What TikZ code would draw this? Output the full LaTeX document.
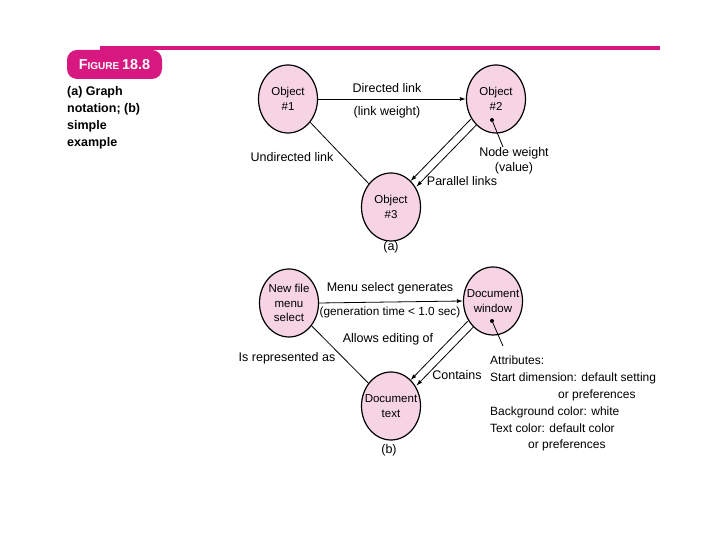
\documentclass[tikz,border=0pt]{standalone}
\usepackage{fontspec}
\setsansfont{Liberation Sans}
\usetikzlibrary{arrows.meta,shapes.geometric,calc}

\definecolor{figmagenta}{RGB}{214,24,128}
\definecolor{nodepink}{RGB}{246,212,227}

\begin{document}
\begin{tikzpicture}[
    x=1pt, y=1pt,
    font=\sffamily\fontsize{12.5}{15}\selectfont,
    >={Latex[length=6pt,width=4pt]},
    arrow/.style={->, line width=0.8pt},
    link/.style={line width=0.8pt},
    objnode/.style={
        ellipse,
        draw,
        line width=1.2pt,
        fill=nodepink,
        align=center,
        minimum width=59pt,
        minimum height=68pt,
        inner xsep=-12pt,
        inner ysep=-8pt,
        font=\sffamily\fontsize{11.5}{14.5}\selectfont
    },
    lbl/.style={align=center, inner sep=1pt},
    weightdot/.style={circle, fill=black, inner sep=0pt, minimum size=4pt}
]

\useasboundingbox (0,0) rectangle (720,540);

% Title bar and badge
\draw[figmagenta, line width=3.5pt] (100,492) -- (660,492);
\node[fill=figmagenta, rounded corners=10pt, minimum width=95pt, minimum height=29pt,
    text=white, font=\sffamily\bfseries] (badge) at (114.5,475.5)
    {{\Large F}{\normalsize IGURE}\ \Large 18.8};

% Caption
\node[anchor=north west, align=left, inner sep=0pt, font=\sffamily\bfseries\fontsize{12.5}{17}\selectfont]
    (caption) at (67,454) {(a) Graph\\notation; (b)\\simple\\example};

% (a) graph notation
\node[objnode] (obj1) at (288,441) {Object\\\#1};
\node[objnode] (obj2) at (496,441) {Object\\\#2};
\node[objnode] (obj3) at (391,333) {Object\\\#3};

\draw[arrow] (obj1.east) -- (obj2.west);
\draw[link] (obj1) -- (obj3);
\draw[arrow, transform canvas={shift={(-2.9,2.8)}}] (obj2) -- (obj3);
\draw[arrow, transform canvas={shift={(2.9,-2.8)}}] (obj2) -- (obj3);

\node[weightdot] (wtdot) at (492,420) {};
\coordinate (wtend) at (503,393);
\draw[link] (wtdot) -- (wtend);

\node[lbl] (directed) at (387,452) {Directed link};
\node[lbl] (weight) at (387,428) {(link weight)};
\node[lbl] (undirected) at (292,383) {Undirected link};
\node[lbl] (parallel) at (462,359) {Parallel links};
\node[lbl] (nodewt) at (514,379) {Node weight\\(value)};
\node[lbl] (parta) at (391,293) {(a)};

% (b) simple example
\node[objnode] (newfile) at (289,237) {New file\\menu\\select};
\node[objnode] (docwin) at (493,239) {Document\\window};
\node[objnode] (doctext) at (391,134) {Document\\text};

\draw[arrow] (newfile.east) -- (docwin.west);
\draw[link] (newfile) -- (doctext);
\draw[arrow, transform canvas={shift={(-2.9,2.8)}}] (docwin) -- (doctext);
\draw[arrow, transform canvas={shift={(2.9,-2.8)}}] (docwin) -- (doctext);

\node[weightdot] (attrdot) at (492,219) {};
\coordinate (attrend) at (503,194);
\draw[link] (attrdot) -- (attrend);

\node[lbl] (generates) at (390,252) {Menu select generates};
\node[lbl, font=\sffamily\fontsize{11.8}{14}\selectfont] (gentime) at (390,228) {(generation time < 1.0 sec)};
\node[lbl] (editing) at (388,201) {Allows editing of};
\node[lbl] (represented) at (287,182) {Is represented as};
\node[lbl] (contains) at (457,165) {Contains};
\node[lbl] (partb) at (389,90) {(b)};

% Attributes
\node[anchor=north west, align=left, inner sep=0pt, font=\sffamily\fontsize{12}{16.8}\selectfont]
    (attrs) at (490,184) {Attributes:\\
    Start dimension: default setting\\
    \hspace*{68pt}or preferences\\
    Background color: white\\
    Text color: default color\\
    \hspace*{38pt}or preferences};

\end{tikzpicture}
\end{document}
